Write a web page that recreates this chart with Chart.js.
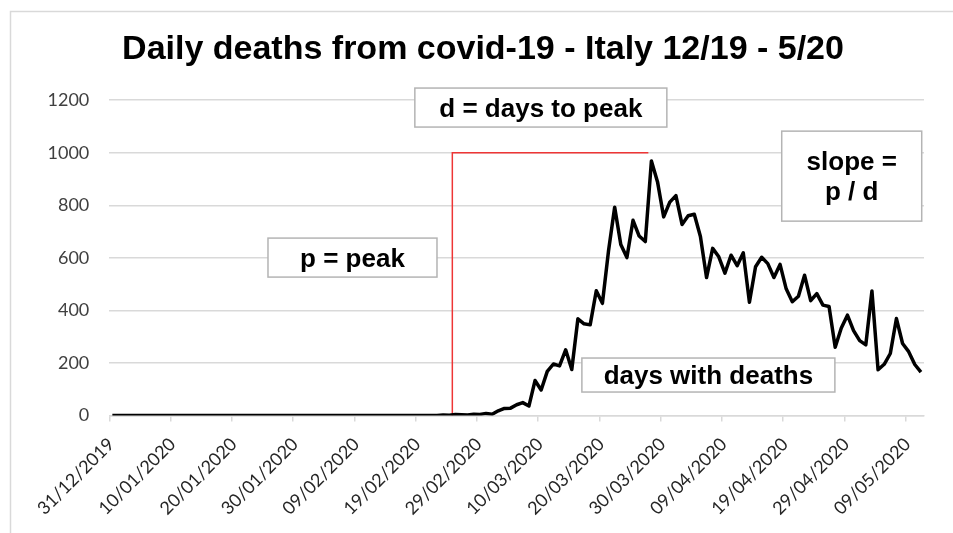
<!DOCTYPE html>
<html>
<head>
<meta charset="utf-8">
<script src="https://cdn.jsdelivr.net/npm/chart.js@4.4.1/dist/chart.umd.min.js"></script>
<style>
  html, body { margin: 0; padding: 0; background: #fff; }
  #wrap { width: 953px; height: 533px; }
</style>
</head>
<body>
<div id="wrap"><canvas id="deathsChart" width="953" height="533"></canvas></div>
<script>
// daily deaths, one value per day: day 0 = 31/12/2019 ... day 132 = 11/05/2020
const deaths = [
  0, 0, 0, 0, 0, 0, 0, 0, 0, 0,
  0, 0, 0, 0, 0, 0, 0, 0, 0, 0,
  0, 0, 0, 0, 0, 0, 0, 0, 0, 0,
  0, 0, 0, 0, 0, 0, 0, 0, 0, 0,
  0, 0, 0, 0, 0, 0, 0, 0, 0, 0,
  0, 0, 0, 0, 2, 1, 4, 3, 2, 5,
  4, 8, 5, 18, 27, 28, 41, 49, 36, 133,
  97, 168, 196, 189, 250, 175, 368, 349, 345, 475,
  427, 627, 793, 651, 601, 743, 683, 662, 969, 889,
  756, 812, 837, 727, 760, 766, 681, 525, 636, 604,
  542, 610, 570, 619, 431, 566, 602, 578, 525, 575,
  482, 433, 454, 534, 437, 464, 420, 415, 260, 333,
  382, 323, 285, 269, 474, 174, 195, 236, 369, 274,
  243, 194, 165
];

const tickDays = [0, 10, 20, 30, 40, 50, 60, 70, 80, 90, 100, 110, 120, 130];
const tickLabels = ['31/12/2019', '10/01/2020', '20/01/2020', '30/01/2020', '09/02/2020',
  '19/02/2020', '29/02/2020', '10/03/2020', '20/03/2020', '30/03/2020',
  '09/04/2020', '19/04/2020', '29/04/2020', '09/05/2020'];
const yTicks = [0, 200, 400, 600, 800, 1000, 1200];

// red guide: first day with deaths -> peak level -> peak day
const guideDays = [56, 56, 88];
const guideValues = [0, 1000, 1000];

// text boxes, centred at (day, value)
const notes = [
  { lines: ['d = days to peak'], day: 70.45, value: 1172, w: 252, h: 39 },
  { lines: ['p = peak'], day: 39.7, value: 601, w: 169, h: 39 },
  { lines: ['slope =', 'p / d'], day: 121.2, value: 911, w: 140, h: 90 },
  { lines: ['days with deaths'], day: 97.8, value: 154, w: 253, h: 34 }
];

const framePlugin = {
  id: 'frame',
  beforeDraw(chart) {
    const c = chart.ctx;
    c.save();
    c.fillStyle = '#fff';
    c.fillRect(0, 0, chart.width, chart.height);
    c.strokeStyle = '#d9d9d9';
    c.lineWidth = 1.5;
    c.strokeRect(10.5, 11.5, chart.width + 20, chart.height + 20);
    c.restore();
  }
};

const notesPlugin = {
  id: 'notes',
  afterDatasetsDraw(chart) {
    const c = chart.ctx;
    const xs = chart.scales.x, ys = chart.scales.y;
    c.save();
    c.font = "bold 26px 'Liberation Sans', Arial, sans-serif";
    c.textAlign = 'center';
    c.textBaseline = 'middle';
    notes.forEach(n => {
      const cx = xs.getPixelForValue(n.day);
      const cy = ys.getPixelForValue(n.value);
      c.fillStyle = '#fff';
      c.fillRect(cx - n.w / 2, cy - n.h / 2, n.w, n.h);
      c.strokeStyle = '#b4b4b4';
      c.lineWidth = 1.5;
      c.strokeRect(cx - n.w / 2, cy - n.h / 2, n.w, n.h);
      c.fillStyle = '#000';
      const lh = 30;
      n.lines.forEach((t, i) => {
        c.fillText(t, cx, cy + (i - (n.lines.length - 1) / 2) * lh + 2);
      });
    });
    c.restore();
  }
};

const ctx = document.getElementById('deathsChart');
const deathsChart = new Chart(ctx, {
  type: 'line',
  data: {
    datasets: [
      {
        label: 'Daily deaths',
        data: deaths.map((v, i) => ({ x: i + 0.5, y: v })),
        borderColor: '#000',
        borderWidth: 3.5,
        borderJoinStyle: 'round',
        pointRadius: 0,
        tension: 0,
        order: 0
      },
      {
        label: 'guide',
        data: guideDays.map((d, i) => ({ x: d, y: guideValues[i] })),
        borderColor: '#ee3535',
        borderWidth: 1.5,
        pointRadius: 0,
        tension: 0,
        order: 1
      }
    ]
  },
  options: {
    responsive: false,
    animation: false,
    layout: { padding: { left: 42, right: 29, top: 0, bottom: 0 } },
    plugins: {
      legend: { display: false },
      tooltip: { enabled: false },
      title: {
        display: true,
        text: 'Daily deaths from covid-19 - Italy 12/19 - 5/20',
        color: '#000',
        font: { family: "'Liberation Sans', Arial, sans-serif", size: 34, weight: 'bold' },
        padding: { top: 29, bottom: 30.4 }
      }
    },
    scales: {
      x: {
        type: 'linear',
        min: 0,
        max: 133,
        afterFit: s => { s.height = 117.5; },
        afterBuildTicks: s => { s.ticks = tickDays.map(v => ({ value: v })); },
        grid: { drawOnChartArea: false, color: '#d9d9d9', lineWidth: 1.5, tickLength: 6 },
        border: { color: '#d9d9d9', width: 1.5 },
        ticks: {
          autoSkip: false,
          minRotation: 45,
          maxRotation: 45,
          padding: 12,
          labelOffset: 2,
          color: '#262626',
          font: { family: 'Lato', size: 18 },
          callback: (v, i) => tickLabels[i]
        }
      },
      y: {
        min: 0,
        max: 1200,
        afterFit: s => { s.width = 67.3; },
        afterBuildTicks: s => { s.ticks = yTicks.map(v => ({ value: v })); },
        grid: { color: '#d9d9d9', lineWidth: 1.5, drawTicks: false },
        border: { display: false },
        ticks: {
          padding: 20,
          color: '#404040',
          font: { family: 'Lato', size: 18 },
          callback: v => String(v)
        }
      }
    }
  },
  plugins: [framePlugin, notesPlugin]
});
</script>
</body>
</html>
